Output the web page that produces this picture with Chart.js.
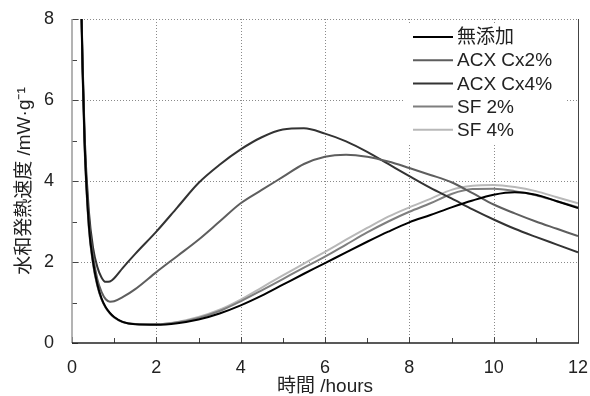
<!DOCTYPE html>
<html>
<head>
<meta charset="utf-8">
<script src="https://cdn.jsdelivr.net/npm/chart.js@4/dist/chart.umd.min.js"></script>
<style>
  html, body { margin: 0; padding: 0; background: #fff; }
  #wrap { width: 590px; height: 396px; }
</style>
</head>
<body>
<div id="wrap"><canvas id="c" width="590" height="396"></canvas></div>
<script>
// Elapsed time (h) at which each heat-flow reading is taken
const hours = [0.2, 0.25, 0.3, 0.4, 0.5, 0.6, 0.7, 0.8, 0.9, 1.0, 1.2,
  1.5, 2, 2.5, 3, 3.5, 4, 4.5, 5, 5.5, 6, 6.5, 7, 7.5, 8, 8.5, 9, 9.5, 10, 10.5, 11, 11.5, 12];

// Heat of hydration rate (mW/g) per mix
const plain = [9.5, 6.8, 4.9, 2.9, 2.0, 1.45, 1.1, 0.88, 0.74, 0.64, 0.52,
  0.46, 0.45, 0.49, 0.58, 0.73, 0.93, 1.17, 1.44, 1.71, 1.97, 2.24, 2.5, 2.75, 2.98, 3.16, 3.35, 3.52, 3.66, 3.72, 3.66, 3.5, 3.33];
const acx2 = [9.5, 6.9, 5.0, 3.05, 2.15, 1.58, 1.26, 1.08, 1.02, 1.03, 1.13,
  1.33, 1.75, 2.15, 2.55, 3.0, 3.45, 3.78, 4.1, 4.42, 4.6, 4.65, 4.6, 4.48, 4.32, 4.15, 3.97, 3.7, 3.42, 3.2, 3.0, 2.82, 2.64];
const acx4 = [9.5, 7.0, 5.1, 3.25, 2.35, 1.88, 1.62, 1.51, 1.52, 1.6, 1.85,
  2.2, 2.75, 3.35, 3.95, 4.4, 4.78, 5.08, 5.27, 5.3, 5.17, 4.98, 4.72, 4.42, 4.12, 3.83, 3.57, 3.3, 3.05, 2.82, 2.62, 2.43, 2.24];
const sf2 = [9.5, 6.7, 4.8, 2.85, 1.95, 1.42, 1.08, 0.87, 0.73, 0.63, 0.52,
  0.47, 0.46, 0.51, 0.62, 0.79, 1.03, 1.3, 1.58, 1.86, 2.13, 2.43, 2.73, 3.0, 3.24, 3.45, 3.68, 3.8, 3.81, 3.75, 3.65, 3.5, 3.35];
const sf4 = [9.5, 6.7, 4.8, 2.85, 1.95, 1.42, 1.08, 0.87, 0.73, 0.63, 0.52,
  0.47, 0.46, 0.52, 0.64, 0.82, 1.07, 1.37, 1.67, 1.96, 2.25, 2.55, 2.84, 3.12, 3.35, 3.56, 3.78, 3.88, 3.9, 3.85, 3.75, 3.6, 3.45];

const seriesNames = ['無添加', 'ACX Cx2%', 'ACX Cx4%', 'SF 2%', 'SF 4%'];
const seriesValues = [plain, acx2, acx4, sf2, sf4];
const seriesColors = ['#000000', '#5e5e5e', '#333333', '#7e7e7e', '#b8b8b8'];

const xTicks = [0, 2, 4, 6, 8, 10, 12];
const yTicks = [0, 2, 4, 6, 8];
const xTitle = '時間 /hours';
const yTitle = '水和発熱速度 /mW·g⁻¹';

const FONT = "'Liberation Sans', Arial, 'Noto Sans CJK JP', sans-serif";

// Dotted grid, inward tick marks and frame, drawn from the scales
const framePlugin = {
  id: 'frame',
  beforeDatasetsDraw(chart) {
    const { ctx, chartArea: a, scales: { x, y } } = chart;
    ctx.save();
    ctx.strokeStyle = '#8a8a8a';
    ctx.lineWidth = 1;
    ctx.setLineDash([1, 2]);
    xTicks.forEach(v => {
      if (v <= x.min || v >= x.max) return;
      const px = Math.round(x.getPixelForValue(v)) + 0.5;
      ctx.beginPath(); ctx.moveTo(px, a.top); ctx.lineTo(px, a.bottom); ctx.stroke();
    });
    yTicks.forEach(v => {
      if (v <= y.min) return;
      const py = Math.round(y.getPixelForValue(v)) + 0.5;
      ctx.beginPath(); ctx.moveTo(a.left, py); ctx.lineTo(a.right, py); ctx.stroke();
    });
    ctx.setLineDash([]);
    // tick marks pointing into the plot
    ctx.strokeStyle = '#444';
    for (let v = x.min; v <= x.max; v += 1) {
      const px = Math.round(x.getPixelForValue(v)) + 0.5;
      const len = v % 2 === 0 ? 6 : 5;
      ctx.beginPath(); ctx.moveTo(px, a.bottom); ctx.lineTo(px, a.bottom - len); ctx.stroke();
    }
    for (let v = y.min; v <= y.max; v += 1) {
      const py = Math.round(y.getPixelForValue(v)) + 0.5;
      const len = v % 2 === 0 ? 6 : 5;
      ctx.beginPath(); ctx.moveTo(a.left, py); ctx.lineTo(a.left + len, py); ctx.stroke();
    }
    // right edge
    ctx.strokeStyle = '#444';
    ctx.beginPath(); ctx.moveTo(a.right + 0.5, a.top); ctx.lineTo(a.right + 0.5, a.bottom); ctx.stroke();
    ctx.restore();
  },
  afterDatasetsDraw(chart) {
    const { ctx, chartArea: a } = chart;
    ctx.save();
    // axis lines
    ctx.lineWidth = 1.5;
    ctx.strokeStyle = '#9a9a9a';
    ctx.beginPath(); ctx.moveTo(a.left, a.top); ctx.lineTo(a.left, a.bottom); ctx.stroke();
    ctx.strokeStyle = '#222';
    ctx.beginPath(); ctx.moveTo(a.left, a.bottom); ctx.lineTo(a.right + 1, a.bottom); ctx.stroke();

    // legend box in the upper right of the plot
    const boxL = a.right - 173, boxT = a.top + 5, boxW = 162, boxH = 119;
    ctx.fillStyle = '#fff';
    ctx.fillRect(boxL, boxT, boxW, boxH);
    ctx.font = '19px ' + FONT;
    ctx.textBaseline = 'middle';
    ctx.textAlign = 'left';
    chart.data.datasets.forEach((ds, i) => {
      const cy = boxT + 13 + i * 23.2;
      ctx.strokeStyle = ds.borderColor;
      ctx.lineWidth = 2;
      ctx.beginPath(); ctx.moveTo(boxL + 8, cy); ctx.lineTo(boxL + 48, cy); ctx.stroke();
      ctx.fillStyle = '#222';
      ctx.fillText(ds.label, boxL + 52, cy + 1);
    });
    ctx.restore();
  }
};

const datasets = seriesNames.map((name, i) => ({
  label: name,
  data: hours.map((h, k) => ({ x: h, y: seriesValues[i][k] })),
  borderColor: seriesColors[i],
  backgroundColor: seriesColors[i],
  borderWidth: 2,
  pointRadius: 0,
  cubicInterpolationMode: 'monotone',
  fill: false
}));

new Chart(document.getElementById('c'), {
  type: 'line',
  data: { datasets },
  plugins: [framePlugin],
  options: {
    responsive: false,
    animation: false,
    devicePixelRatio: 1,
    layout: { padding: { left: 0, right: 12, top: 19, bottom: 0 } },
    plugins: { legend: { display: false }, tooltip: { enabled: false } },
    scales: {
      x: {
        type: 'linear', min: 0, max: 12,
        afterBuildTicks: s => { s.ticks = xTicks.map(v => ({ value: v })); },
        afterFit: s => { s.height = 53; s.paddingLeft = 0; s.paddingRight = 0; },
        grid: { display: false },
        border: { display: false },
        ticks: { color: '#222', padding: 6, maxRotation: 0, font: { family: FONT, size: 18 } },
        title: { display: true, text: xTitle, color: '#222', padding: { top: 0, bottom: -2 }, font: { family: FONT, size: 19 } }
      },
      y: {
        min: 0, max: 8,
        afterBuildTicks: s => { s.ticks = yTicks.map(v => ({ value: v })); },
        afterFit: s => { s.width = 72; s.paddingTop = 0; s.paddingBottom = 0; },
        grid: { display: false },
        border: { display: false },
        ticks: { color: '#222', padding: 10, font: { family: FONT, size: 18 } },
        title: { display: true, text: yTitle, color: '#222', padding: { top: 13, bottom: 0 }, font: { family: FONT, size: 19 } }
      }
    }
  }
});
</script>
</body>
</html>
